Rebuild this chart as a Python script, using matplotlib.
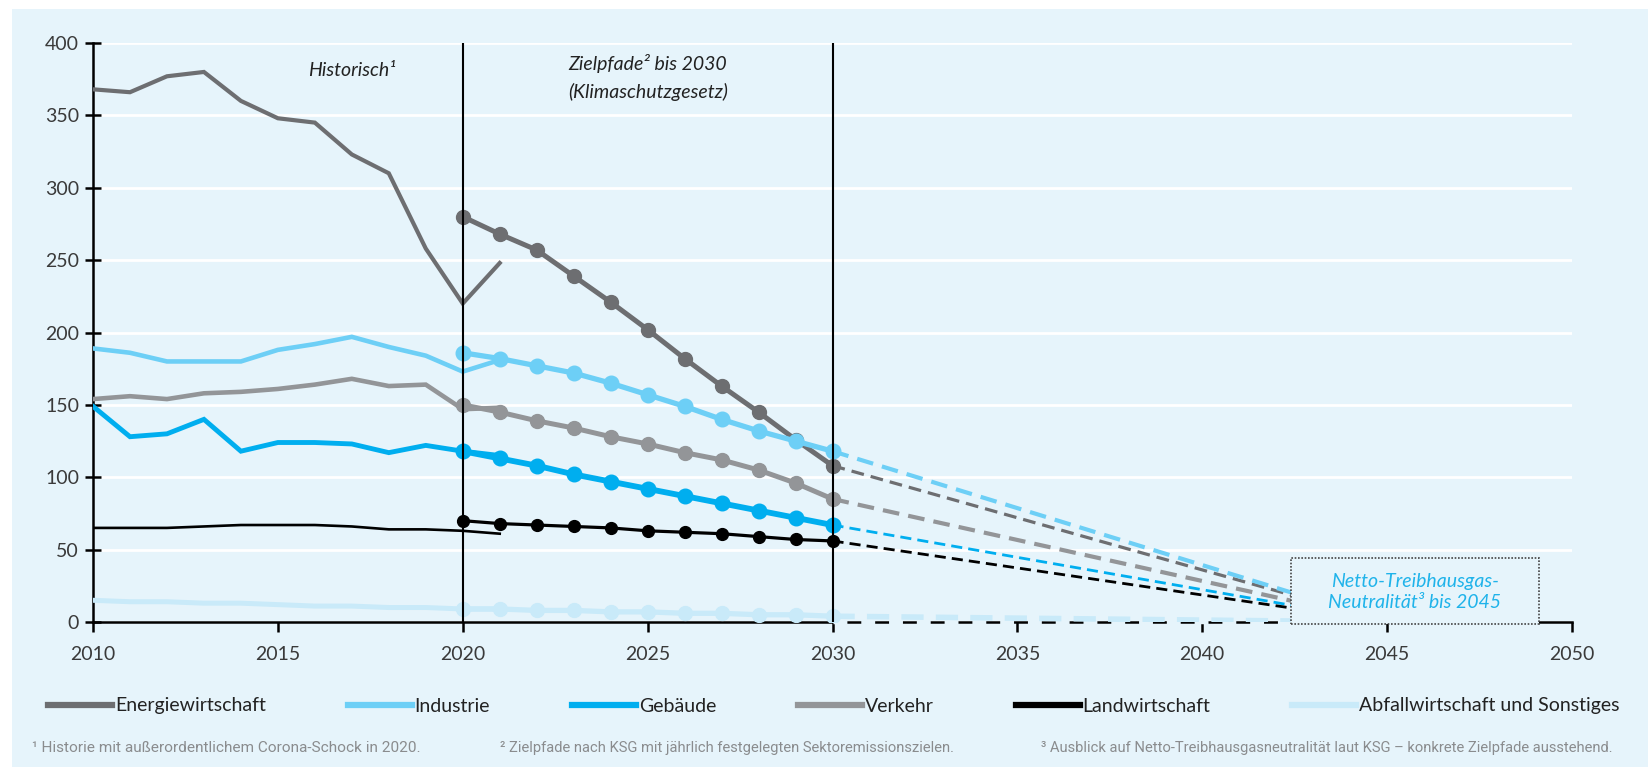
import matplotlib
matplotlib.use("Agg")
import matplotlib.pyplot as plt
from matplotlib.patches import Rectangle

plt.rcParams['font.family'] = ['Lato', 'DejaVu Sans']

# ---------------- data ----------------
years_hist = list(range(2010, 2022))
years_target = list(range(2020, 2031))
years_proj = [2030, 2045]
neutral_2045 = 0

sectors = ["Energiewirtschaft", "Industrie", "Gebäude", "Verkehr",
           "Landwirtschaft", "Abfallwirtschaft und Sonstiges"]

energie_hist = [368, 366, 377, 380, 360, 348, 345, 323, 310, 258, 220, 248]
industrie_hist = [189, 186, 180, 180, 180, 188, 192, 197, 190, 184, 173, 181]
gebaeude_hist = [149, 128, 130, 140, 118, 124, 124, 123, 117, 122, 118, 115]
verkehr_hist = [154, 156, 154, 158, 159, 161, 164, 168, 163, 164, 147, 148]
landwirt_hist = [65, 65, 65, 66, 67, 67, 67, 66, 64, 64, 63, 61]
abfall_hist = [15, 14, 14, 13, 13, 12, 11, 11, 10, 10, 9, 9]

energie_target = [280, 268, 257, 239, 221, 202, 182, 163, 145, 126, 108]
industrie_target = [186, 182, 177, 172, 165, 157, 149, 140, 132, 125, 118]
gebaeude_target = [118, 113, 108, 102, 97, 92, 87, 82, 77, 72, 67]
verkehr_target = [150, 145, 139, 134, 128, 123, 117, 112, 105, 96, 85]
landwirt_target = [70, 68, 67, 66, 65, 63, 62, 61, 59, 57, 56]
abfall_target = [9, 9, 8, 8, 7, 7, 6, 6, 5, 5, 4]

y_ticks = [0, 50, 100, 150, 200, 250, 300, 350, 400]
x_ticks = [2010, 2015, 2020, 2025, 2030, 2035, 2040, 2045, 2050]
phase_lines = [2020, 2030]

footnotes = ["¹ Historie mit außerordentlichem Corona-Schock in 2020.",
             "² Zielpfade nach KSG mit jährlich festgelegten Sektoremissionszielen.",
             "³ Ausblick auf Netto-Treibhausgasneutralität laut KSG – konkrete Zielpfade ausstehend."]

hist_all = [energie_hist, industrie_hist, gebaeude_hist, verkehr_hist, landwirt_hist, abfall_hist]
target_all = [energie_target, industrie_target, gebaeude_target, verkehr_target, landwirt_target, abfall_target]

# ---------------- styles ----------------
BG = "#E6F4FB"
colors = ["#6D6E71", "#6DCFF6", "#00AEEF", "#939598", "#000000", "#C9EAF9"]
hist_lw = [3.0, 3.3, 3.5, 3.3, 1.9, 3.6]
targ_lw = [3.6, 3.8, 4.2, 3.6, 2.3, 3.8]
targ_ms = [10, 10.5, 10.5, 10, 8.5, 10]
proj_lw = [2.3, 3.0, 2.0, 3.0, 2.0, 4.0]
proj_dash = (4, 2.2)

fig = plt.figure(figsize=(16.48, 7.67), dpi=100, facecolor="white")
fig.patches.append(Rectangle((12 / 1648, 0), 1, 758 / 767, transform=fig.transFigure,
                             facecolor=BG, edgecolor="none", zorder=-10))

ax = fig.add_axes([93 / 1648, 145 / 767, (1572 - 93) / 1648, (724 - 145) / 767])
ax.set_facecolor(BG)
ax.set_xlim(x_ticks[0], x_ticks[-1])
ax.set_ylim(y_ticks[0], y_ticks[-1])

handles = []
for i in range(len(sectors)):
    h, = ax.plot(years_hist, hist_all[i], color=colors[i], lw=hist_lw[i],
                 solid_joinstyle="miter", zorder=3 + i * 0.1, label=sectors[i])
    handles.append(h)
    ax.plot(years_target, target_all[i], color=colors[i], lw=targ_lw[i],
            marker="o", ms=targ_ms[i], zorder=4 + i * 0.1)
    ax.plot(years_proj, [target_all[i][-1], neutral_2045], color=colors[i],
            lw=proj_lw[i], dashes=proj_dash, zorder=3.5)

for x in phase_lines:
    ax.axvline(x, color="black", lw=1.5, zorder=6)

# grid and spines
ax.set_yticks(y_ticks)
ax.set_xticks(x_ticks)
ax.yaxis.grid(True, color="white", lw=2)
ax.xaxis.grid(False)
ax.set_axisbelow(True)
for s in ["top", "right"]:
    ax.spines[s].set_visible(False)
ax.spines["left"].set_linewidth(1.8)
ax.spines["bottom"].set_linewidth(1.8)
ax.tick_params(axis="y", direction="inout", length=12, width=1.8, labelsize=14,
               labelcolor="#3a3a3a", pad=4)
ax.tick_params(axis="x", direction="out", length=7, width=1.8, labelsize=14,
               labelcolor="#3a3a3a", pad=10)

# dashed appearance of baseline in outlook section
ax.hlines(y_ticks[0], phase_lines[1], x_ticks[-2], colors=BG, lw=2.5,
          linestyles=(0, (4, 4)), zorder=3.2, clip_on=False)

# annotations
ax.text(2017.0, 381, "Historisch¹", ha="center", va="center", fontsize=14,
        style="italic", color="#222222")
ax.text(2025.0, 386, "Zielpfade² bis 2030", ha="center", va="center", fontsize=14,
        style="italic", color="#222222")
ax.text(2025.0, 366, "(Klimaschutzgesetz)", ha="center", va="center", fontsize=14,
        style="italic", color="#222222")

box = Rectangle((2042.4, -1.5), 6.7, 45.5, facecolor=BG, edgecolor="#444444",
                lw=1.2, linestyle=(0, (1, 1)), zorder=8, clip_on=False)
ax.add_patch(box)
ax.text(2045.75, 20.5, "Netto-Treibhausgas-\nNeutralität³ bis 2045", ha="center",
        va="center", fontsize=14, style="italic", color="#1FB3EA", zorder=9,
        linespacing=1.3)

# legend
leg = fig.legend(handles=handles, labels=sectors, loc="center", ncol=6,
                 bbox_to_anchor=(0.506, 1 - 706 / 767), frameon=False, fontsize=14,
                 handlelength=3.3, handletextpad=0.15, columnspacing=4.2,
                 labelcolor="#222222")
for lh in leg.get_lines():
    lh.set_linewidth(4.5)

# footnotes, fitted to the reference widths
fn_x = [32, 500, 1041]
fn_w = [388, 455, 574]
renderer = fig.canvas.get_renderer()
for txt, x0, w in zip(footnotes, fn_x, fn_w):
    t = fig.text(x0 / 1648, 1 - 748 / 767, txt, fontsize=10, color="#8a8c8e",
                 va="center", family=["Roboto", "DejaVu Sans"])
    cur = t.get_window_extent(renderer).width
    t.set_fontsize(10 * w / cur)

fig.savefig("out.png", dpi=100, facecolor="white")
